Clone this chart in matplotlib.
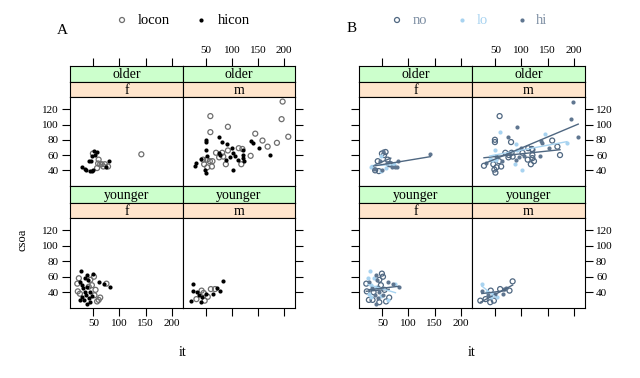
import numpy as np
import pandas as pd
import matplotlib
matplotlib.use("Agg")
import matplotlib.pyplot as plt

plt.rcParams["font.family"] = ["Liberation Serif", "DejaVu Serif"]

W, H = 640, 378

# ---- data: (it, csoa), A grouping (con) and B grouping (grp) per panel ----
older_f_x = [51, 56, 47, 46, 79, 29, 33, 36, 47, 50, 43, 75, 41, 53,
             49, 60, 59, 66, 69, 57, 78, 142, 63, 72]
older_f_y = [65, 64, 59, 52, 52, 45, 42, 40, 39, 40, 39, 45, 52, 60,
             62, 54, 49, 48, 45, 43, 45, 61, 48, 48]
older_f_con = ["hi"] * 14 + ["lo"] * 10
older_f_grp = ["hi", "no", "lo", "hi", "hi", "lo", "hi", "no", "lo", "hi", "no", "hi", "no", "no",
               "no", "no", "hi", "no", "hi", "lo", "hi", "hi", "no", "lo"]

older_m_x = [198, 58, 196, 92, 58, 209, 145, 159, 187, 169, 113, 120, 92, 81, 69, 136, 75,
             51, 44, 57, 62, 88, 118, 52, 61, 46, 83,
             49, 49, 75, 80, 90, 49, 52, 74, 76, 99, 102, 105, 112, 121, 121, 121,
             137, 140, 152, 174, 101, 124, 39, 31, 28, 48, 50, 96, 89]
older_m_y = [130, 111, 107, 97, 90, 84, 88, 79, 76, 71, 69, 68, 66, 63, 63, 59, 57,
             54, 54, 52, 52, 48, 48, 44, 45, 48, 58,
             80, 77, 84, 77, 74, 66, 59, 63, 60, 69, 63, 59, 54, 67, 60, 56,
             78, 76, 69, 60, 41, 52, 55, 49, 46, 41, 37, 58, 54]
older_m_con = ["lo"] * 27 + ["hi"] * 29
older_m_grp = ["hi", "no", "hi", "hi", "lo", "hi", "lo", "no", "lo", "no", "no", "no", "lo", "no",
               "no", "hi", "no", "lo", "lo", "no", "hi", "lo", "no", "no", "no", "no", "no",
               "no", "no", "hi", "no", "lo", "lo", "hi", "hi", "no", "hi", "no", "hi", "no",
               "no", "no", "no", "hi", "hi", "hi", "no", "lo", "no", "lo", "hi", "no", "no",
               "no", "hi", "hi"]

younger_f_x = [27, 49, 38, 33, 60, 70, 81, 25, 28, 30, 33, 35, 28, 31, 41, 44, 37, 38, 43, 24,
               47, 39, 22, 19, 20, 24, 44, 47, 54, 52, 63, 57, 75, 51, 41, 60]
younger_f_y = [67, 64, 62, 58, 53, 51, 47, 53, 49, 45, 40, 36, 34, 30, 32, 27, 25, 47, 40, 30,
               35, 56, 58, 51, 41, 38, 56, 49, 43, 36, 33, 28, 51, 60, 47, 30]
younger_f_con = ["hi"] * 22 + ["lo"] * 14
younger_f_grp = ["lo", "no", "hi", "lo", "hi", "hi", "hi", "hi", "lo", "hi", "no", "hi", "lo",
                 "no", "hi", "no", "hi", "lo", "hi", "no", "lo", "hi", "lo", "no", "no", "lo",
                 "no", "no", "no", "hi", "no", "no", "lo", "no", "hi", "lo"]

younger_m_x = [24, 24, 21, 36, 41, 40, 49, 64, 70, 77, 83, 33,
               41, 53, 59, 67, 47, 31, 45]
younger_m_y = [51, 42, 29, 36, 34, 27, 38, 37, 46, 42, 54, 40,
               42, 34, 44, 44, 29, 31, 39]
younger_m_con = ["hi"] * 12 + ["lo"] * 7
younger_m_grp = ["lo", "hi", "no", "hi", "lo", "no", "hi", "hi", "hi", "no", "no", "lo",
                 "no", "lo", "no", "hi", "no", "no", "lo"]

X_TICKS = [50, 100, 150, 200]
Y_TICKS = [40, 60, 80, 100, 120]

frames = []
for age, sex, xs, ys, con, grp in [
        ("older", "f", older_f_x, older_f_y, older_f_con, older_f_grp),
        ("older", "m", older_m_x, older_m_y, older_m_con, older_m_grp),
        ("younger", "f", younger_f_x, younger_f_y, younger_f_con, younger_f_grp),
        ("younger", "m", younger_m_x, younger_m_y, younger_m_con, younger_m_grp)]:
    frames.append(pd.DataFrame({"age": age, "sex": sex, "it": xs, "csoa": ys,
                                "con": con, "grp": grp}))
df = pd.concat(frames, ignore_index=True)

GREEN = "#ccffcc"
ORANGE = "#ffe5cc"
B_COL = {"no": "#4f6781", "lo": "#a8d3f0", "hi": "#5f7690"}
B_LINE = {"no": "#4f6781", "lo": "#a8d3f0", "hi": "#4f6781"}
XLIM = (5, 222)
YLIM = (19.5, 136)

fig = plt.figure(figsize=(W / 100, H / 100), dpi=100)


def box(x0, y0, x1, y1):
    return fig.add_axes([x0 / W, 1 - y1 / H, (x1 - x0) / W, (y1 - y0) / H])


def strip(x0, y0, x1, y1, text, color):
    ax = box(x0, y0, x1, y1)
    ax.set_facecolor(color)
    ax.set_xlim(XLIM)
    ax.set_xticks([])
    ax.set_yticks([])
    for s in ax.spines.values():
        s.set_linewidth(0.8)
    ax.text(0.5, 0.45, text, transform=ax.transAxes, ha="center", va="center", fontsize=10)
    return ax


def draw(side, cols):
    rows = [("older", 66, 82, 97, 186), ("younger", 186, 203, 218, 308)]
    for ri, (age, s0, s1, p0, p1) in enumerate(rows):
        for ci, sex in enumerate(["f", "m"]):
            x0, x1 = cols[ci], cols[ci + 1]
            g = strip(x0, s0, x1, s1, age, GREEN)
            strip(x0, s1, x1, p0, sex, ORANGE)
            if ri == 0:
                g.set_xticks(X_TICKS)
                g.tick_params(axis="x", top=True, bottom=False, labeltop=(ci == 1),
                              labelbottom=False, direction="out", length=6, width=0.8,
                              labelsize=8, pad=2)
            ax = box(x0, p0, x1, p1)
            ax.set_xlim(XLIM)
            ax.set_ylim(YLIM)
            ax.set_xticks(X_TICKS)
            ax.set_yticks(Y_TICKS)
            for s in ax.spines.values():
                s.set_linewidth(0.8)
            ax.tick_params(direction="out", length=6, width=0.8, labelsize=8, pad=2,
                           bottom=(ri == 1), labelbottom=(ri == 1 and ci == 0),
                           left=(ci == 0), right=(ci == 1),
                           labelleft=(side == "A" and ci == 0),
                           labelright=(side == "B" and ci == 1))
            sub = df[(df["age"] == age) & (df["sex"] == sex)]
            if side == "A":
                lo = sub[sub["con"] == "lo"]
                hi = sub[sub["con"] == "hi"]
                ax.scatter(lo["it"], lo["csoa"], s=13, facecolors="none",
                           edgecolors="#6e6e6e", linewidths=0.9)
                ax.scatter(hi["it"], hi["csoa"], s=9, color="black", linewidths=0)
            else:
                for gname in ["no", "lo", "hi"]:
                    gd = sub[sub["grp"] == gname]
                    if gname == "no":
                        ax.scatter(gd["it"], gd["csoa"], s=13, facecolors="none",
                                   edgecolors=B_COL[gname], linewidths=0.9)
                    else:
                        ax.scatter(gd["it"], gd["csoa"], s=9, color=B_COL[gname],
                                   linewidths=0)
                    if len(gd) > 1:
                        k, b = np.polyfit(gd["it"], gd["csoa"], 1)
                        xx = np.array([gd["it"].min(), gd["it"].max()])
                        ax.plot(xx, k * xx + b, color=B_LINE[gname], lw=1.0)


draw("A", [70, 183, 295])
draw("B", [359, 472, 585])

# titles, axis labels
fig.text(62 / W, 1 - 30 / H, "A", fontsize=11, ha="center", va="center")
fig.text(352 / W, 1 - 28 / H, "B", fontsize=11, ha="center", va="center")
fig.text(22 / W, 1 - 240 / H, "csoa", fontsize=9, rotation=90, ha="center", va="center")
fig.text(183 / W, 1 - 352 / H, "it", fontsize=10, ha="center", va="center")
fig.text(472 / W, 1 - 352 / H, "it", fontsize=10, ha="center", va="center")

# legends
leg = fig.add_axes([0, 0, 1, 1], facecolor="none")
leg.set_xlim(0, W)
leg.set_ylim(H, 0)
leg.axis("off")
leg.scatter([122], [20], s=13, facecolors="none", edgecolors="#6e6e6e", linewidths=0.9)
leg.text(138, 20, "locon", fontsize=10.5, va="center")
leg.scatter([201], [20], s=9, color="black", linewidths=0)
leg.text(218, 20, "hicon", fontsize=10.5, va="center")
leg.scatter([397], [20], s=13, facecolors="none", edgecolors=B_COL["no"], linewidths=0.9)
leg.text(413, 20, "no", fontsize=10.5, va="center", color="#7d8ea3")
leg.scatter([462], [20], s=9, color=B_COL["lo"], linewidths=0)
leg.text(477, 20, "lo", fontsize=10.5, va="center", color=B_COL["lo"])
leg.scatter([522], [20], s=9, color=B_COL["hi"], linewidths=0)
leg.text(536, 20, "hi", fontsize=10.5, va="center", color="#7d8ea3")

fig.savefig("out.png", dpi=100)
